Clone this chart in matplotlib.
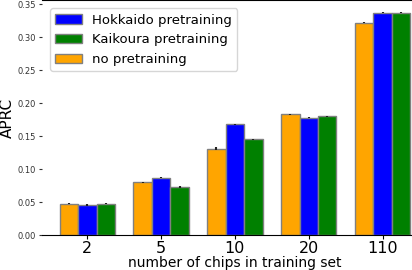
import matplotlib
matplotlib.use("Agg")
import matplotlib.pyplot as plt
import numpy as np

categories = ["2", "5", "10", "20", "110"]
no_pre = [0.048, 0.080, 0.131, 0.183, 0.322]
hokkaido = [0.046, 0.087, 0.168, 0.178, 0.337]
kaikoura = [0.048, 0.073, 0.145, 0.180, 0.337]
no_pre_err = [0.001, 0.001, 0.002, 0.001, 0.001]
hokkaido_err = [0.001, 0.001, 0.001, 0.001, 0.001]
kaikoura_err = [0.001, 0.001, 0.001, 0.001, 0.001]

fig = plt.figure(figsize=(4.12, 2.70), dpi=100)
ax = fig.add_axes([0.1022, 0.1285, 0.936, 0.870])

x = np.arange(len(categories))
w = 0.25
ekw = dict(ecolor="#222222", elinewidth=1.5, capsize=0)
b_no = ax.bar(x - w, no_pre, w, yerr=no_pre_err, color="orange", edgecolor="gray", linewidth=1, error_kw=ekw, label="no pretraining")
b_h = ax.bar(x, hokkaido, w, yerr=hokkaido_err, color="blue", edgecolor="gray", linewidth=1, error_kw=ekw, label="Hokkaido pretraining")
b_k = ax.bar(x + w, kaikoura, w, yerr=kaikoura_err, color="green", edgecolor="gray", linewidth=1, error_kw=ekw, label="Kaikoura pretraining")

ax.set_xlim(-0.6125, 4.6125)
ax.set_ylim(0, 0.3555)
ax.set_xticks(x)
ax.set_xticklabels(categories, fontsize=11.5)
ax.set_yticks([0.0, 0.05, 0.10, 0.15, 0.20, 0.25, 0.30, 0.35])
ax.set_yticklabels(["0.00", "0.05", "0.10", "0.15", "0.20", "0.25", "0.30", "0.35"], fontsize=6, color="#333333")
ax.tick_params(axis="y", length=2.5, width=0.8, pad=2, color="#333333")
ax.tick_params(axis="x", length=3, pad=1)
ax.spines["left"].set_visible(False)
ax.set_xlabel("number of chips in training set", fontsize=10, labelpad=0)
ax.set_ylabel("APRC", fontsize=11, labelpad=2)

ax.legend(handles=[b_h, b_k, b_no], loc="upper left", fontsize=9.5,
          bbox_to_anchor=(0.0, 1.0), borderaxespad=0.6, handlelength=2.0)

fig.savefig("out.png", dpi=100)
